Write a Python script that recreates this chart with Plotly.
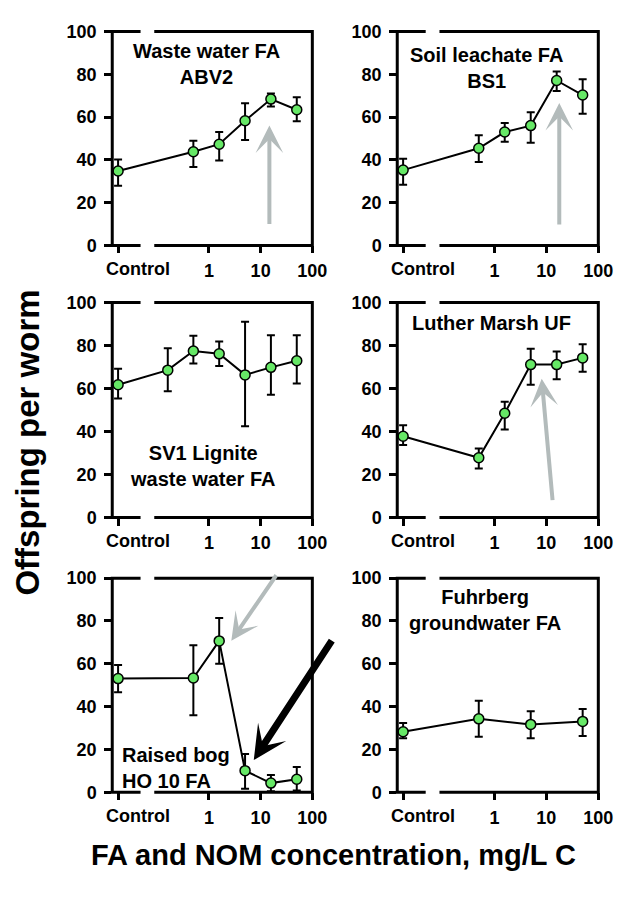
import plotly.graph_objects as go

W, H = 626, 905

# ---------------- data ----------------
CONTROL_X = 0.0175          # plotting position used for the "Control" group
tick_vals_conc = [1, 10, 100]
tick_text = ["", "1", "10", "100"]
y_ticks = [0, 20, 40, 60, 80, 100]

abv2_conc = [0.5, 1.58, 5, 15.8, 50]
abv2_mean = [34.8, 43.8, 47.3, 58.3, 68.4, 63.4]
abv2_hi = [40.2, 48.9, 53.0, 66.4, 71.0, 69.3]
abv2_lo = [27.9, 36.6, 39.7, 49.3, 64.9, 58.0]

bs1_conc = [0.5, 1.58, 5, 15.8, 50]
bs1_mean = [35.2, 45.4, 53.0, 56.0, 77.1, 70.3]
bs1_hi = [40.5, 51.5, 57.2, 62.2, 81.3, 77.7]
bs1_lo = [28.3, 39.0, 48.5, 48.0, 72.2, 61.5]

sv1_conc = [0.16, 0.5, 1.58, 5, 15.8, 50]
sv1_mean = [61.7, 68.5, 77.4, 76.1, 66.3, 69.8, 72.9]
sv1_hi = [69.1, 78.7, 84.5, 81.8, 91.0, 84.7, 84.7]
sv1_lo = [55.3, 58.7, 71.6, 70.4, 42.4, 57.1, 62.3]

lm_conc = [0.5, 1.58, 5, 15.8, 50]
lm_mean = [37.8, 27.8, 48.5, 71.1, 71.1, 74.2]
lm_hi = [42.9, 32.1, 53.8, 78.4, 77.2, 80.5]
lm_lo = [33.7, 22.8, 40.9, 61.7, 64.3, 67.8]

ho10_conc = [0.5, 1.58, 5, 15.8, 50]
ho10_mean = [53.1, 53.4, 70.7, 10.1, 4.3, 6.1]
ho10_hi = [59.5, 68.7, 81.4, 17.9, 8.1, 11.8]
ho10_lo = [46.7, 36.0, 60.0, 1.7, 0.5, 0.8]

fu_conc = [0.5, 5, 50]
fu_mean = [28.3, 34.3, 31.7, 33.1]
fu_hi = [32.4, 42.7, 37.8, 38.9]
fu_lo = [25.2, 26.0, 25.2, 26.3]

panel_labels = [
    "Waste water FA<br>ABV2",
    "Soil leachate FA<br>BS1",
    "SV1 Lignite<br>waste water FA",
    "Luther Marsh UF",
    "Raised bog<br>HO 10 FA",
    "Fuhrberg<br>groundwater FA",
]

series = [
    (abv2_conc, abv2_mean, abv2_hi, abv2_lo),
    (bs1_conc, bs1_mean, bs1_hi, bs1_lo),
    (sv1_conc, sv1_mean, sv1_hi, sv1_lo),
    (lm_conc, lm_mean, lm_hi, lm_lo),
    (ho10_conc, ho10_mean, ho10_hi, ho10_lo),
    (fu_conc, fu_mean, fu_hi, fu_lo),
]

# ---------------- layout geometry (pixels) ----------------
col_px = [(115, 320), (407, 613)]
row_px = [(22, 240.7), (299, 519), (581, 800)]
BRK0, BRK1 = 0.1415, 0.21   # axis break as fraction of panel width
XRANGE = [-1.87, 2.0]

FONT = "Liberation Sans, Arial, sans-serif"
GREEN = "#66E866"
GREY = "#B3BBBB"

fig = go.Figure()
layout_axes = {}
shapes = []
annotations = []

for i, (conc, mean, hi, lo) in enumerate(series):
    r, c = divmod(i, 2)
    k = i + 1
    xa = "x" if k == 1 else f"x{k}"
    ya = "y" if k == 1 else f"y{k}"
    x0p, x1p = col_px[c]
    y0p, y1p = row_px[r]
    xdom = [x0p / W, x1p / W]
    ydom = [1 - y1p / H, 1 - y0p / H]

    xs = [CONTROL_X] + list(conc)
    fig.add_trace(go.Scatter(
        x=xs, y=mean, xaxis=xa, yaxis=ya, mode="lines+markers",
        line=dict(color="black", width=2),
        marker=dict(size=10, color=GREEN, line=dict(color="black", width=1.5)),
        error_y=dict(type="data", symmetric=False,
                     array=[h - m for h, m in zip(hi, mean)],
                     arrayminus=[m - l for m, l in zip(mean, lo)],
                     color="black", thickness=2, width=4),
        cliponaxis=False, showlegend=False, hoverinfo="skip",
    ))

    xkey = "xaxis" if k == 1 else f"xaxis{k}"
    ykey = "yaxis" if k == 1 else f"yaxis{k}"
    layout_axes[xkey] = dict(
        domain=xdom, anchor=ya, type="log", range=XRANGE,
        tickmode="array", tickvals=[CONTROL_X] + tick_vals_conc, ticktext=tick_text,
        ticks="outside", ticklen=7, tickwidth=2.5, tickcolor="black",
        showline=False, showgrid=False, zeroline=False,
        tickfont=dict(family=FONT, size=18, color="black", weight="bold"),
        ticklabelstandoff=2,
    )
    layout_axes[ykey] = dict(
        domain=ydom, anchor=xa, range=[0, 100],
        tickmode="array", tickvals=y_ticks,
        ticks="outside", ticklen=7, tickwidth=2.5, tickcolor="black",
        showline=False, showgrid=False, zeroline=False,
        tickfont=dict(family=FONT, size=18, color="black", weight="bold"),
        ticklabelstandoff=4,
    )

    # "Control" label (offset to the right of its tick as in the original)
    annotations.append(dict(
        text="<b>Control</b>", x=(x0p + 26) / W, y=1 - (y1p + 24) / H,
        xref="paper", yref="paper", xanchor="center", yanchor="middle",
        showarrow=False, font=dict(family=FONT, size=18, color="black"),
    ))

    # frame with breaks on top & bottom
    xa0, xa1 = xdom
    yb, yt = ydom
    bx0 = xa0 + BRK0 * (xa1 - xa0)
    bx1 = xa0 + BRK1 * (xa1 - xa0)
    lw = 3
    shapes.append(dict(type="path", xref="paper", yref="paper",
                       path=f"M {bx0},{yb} L {xa0},{yb} L {xa0},{yt} L {bx0},{yt}",
                       line=dict(color="black", width=lw)))
    shapes.append(dict(type="path", xref="paper", yref="paper",
                       path=f"M {bx1},{yt} L {xa1},{yt} L {xa1},{yb} L {bx1},{yb}",
                       line=dict(color="black", width=lw)))

# panel labels (pixel centres)
label_pos = [
    (212, 55, "center"),
    (498, 59, "center"),
    (208, 466, "center"),
    (504, 320, "center"),
    (123, 775, "left"),
    (497, 614, "center"),
]
for txt, (px, py, al) in zip(panel_labels, label_pos):
    annotations.append(dict(
        text=f"<b>{txt}</b>", x=px / W, y=1 - py / H, xref="paper", yref="paper",
        xanchor=al, yanchor="middle", align=al, showarrow=False,
        font=dict(family=FONT, size=20, color="black"),
    ))

# arrows: (tip_x, tip_y, tail_x, tail_y, colour, width, size)
arrows = [
    (276, 118, 276, 218, GREY, 4, 1.15),
    (573, 95, 573, 218, GREY, 4, 1.15),
    (555, 377, 566, 500, GREY, 4, 1.15),
    (237, 645, 283, 578, GREY, 4, 1.15),
    (260, 767, 339, 646, "black", 7, 0.8),
]
for tx, ty, sx, sy, col, wdt, sz in arrows:
    annotations.append(dict(
        text="", x=tx / W, y=1 - ty / H, xref="paper", yref="paper",
        ax=sx - tx, ay=sy - ty, axref="pixel", ayref="pixel",
        showarrow=True, arrowhead=3, arrowwidth=wdt, arrowsize=sz,
        arrowcolor=col, standoff=0,
    ))

# axis titles
annotations.append(dict(
    text="<b>FA and NOM concentration, mg/L C</b>", x=342 / W, y=1 - 864 / H,
    xref="paper", yref="paper", xanchor="center", yanchor="middle", showarrow=False,
    font=dict(family=FONT, size=29, color="black"),
))
annotations.append(dict(
    text="<b>Offspring per worm</b>", x=28 / W, y=1 - 442 / H,
    xref="paper", yref="paper", xanchor="center", yanchor="middle", showarrow=False,
    textangle=-90, font=dict(family=FONT, size=33, color="black"),
))

fig.update_layout(
    width=W, height=H, margin=dict(l=0, r=0, t=0, b=0),
    paper_bgcolor="white", plot_bgcolor="white",
    shapes=shapes, annotations=annotations, **layout_axes,
)
fig.write_html("out.html")
